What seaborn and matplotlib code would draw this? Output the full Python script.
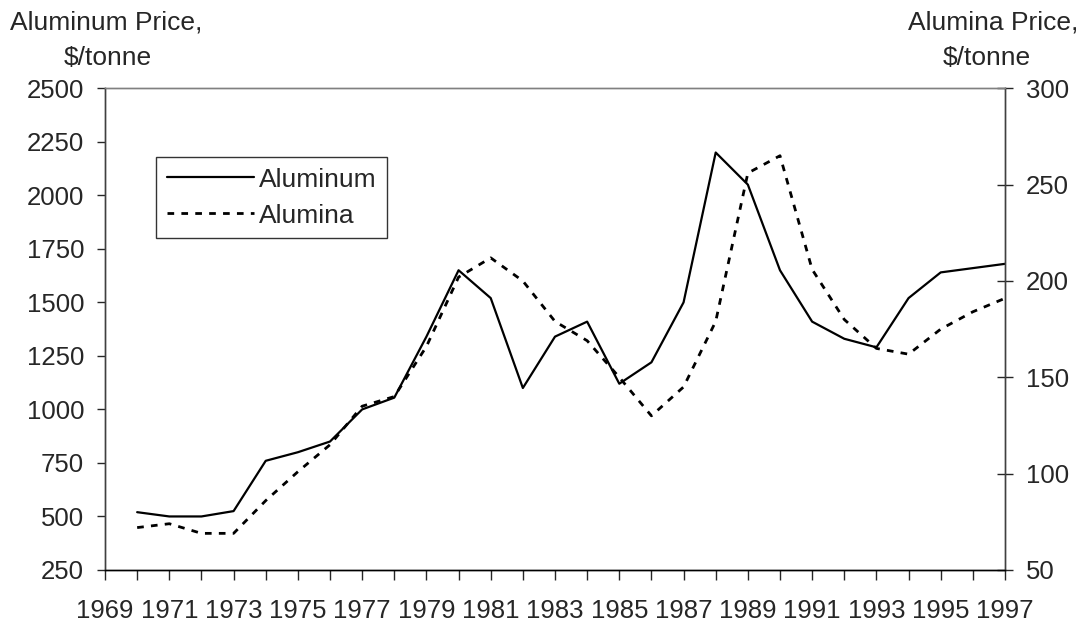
import pandas as pd
import matplotlib
matplotlib.use('Agg')
import matplotlib.pyplot as plt
import seaborn as sns

years = list(range(1970, 1998))
aluminum = [520, 500, 500, 525, 760, 800, 850, 1000, 1055, 1340,
            1650, 1520, 1100, 1340, 1410, 1120, 1220, 1500, 2200, 2050,
            1650, 1410, 1330, 1290, 1520, 1640, 1660, 1680]
alumina = [72, 74, 69, 69, 86, 101, 115, 135, 140, 166,
           202, 212, 200, 179, 169, 150, 130, 145, 179, 256,
           265, 206, 180, 165, 162, 175, 184, 191]
tick_years = list(range(1969, 1998))
left_ticks = [250, 500, 750, 1000, 1250, 1500, 1750, 2000, 2250, 2500]
right_ticks = [50, 100, 150, 200, 250, 300]

df = pd.DataFrame({'Year': years, 'Aluminum': aluminum, 'Alumina': alumina})

sns.set_style('white')
plt.rcParams['font.family'] = ['Liberation Sans', 'DejaVu Sans']
fs = 18.5   # tick labels
hs = 19     # headers and legend

fig = plt.figure(figsize=(10.86, 6.28), dpi=100)
ax = fig.add_axes([0.0967, 0.0924, 0.8287, 0.767])
ax2 = ax.twinx()

sns.lineplot(data=df, x='Year', y='Aluminum', ax=ax, color='black', lw=1.6, label='Aluminum', legend=False)
sns.lineplot(data=df, x='Year', y='Alumina', ax=ax2, color='black', lw=2.0, label='Alumina', legend=False)
ax2.lines[0].set_dashes((2.4, 2.6))

ax.set_xlim(1969, 1997)
ax.set_ylim(250, 2500)
ax2.set_ylim(50, 300)
ax.set_xticks(tick_years)
ax.set_xticklabels([str(y) if (y - 1969) % 2 == 0 else '' for y in tick_years])
ax.set_yticks(left_ticks)
ax2.set_yticks(right_ticks)
ax.set_xlabel('')
ax.set_ylabel('')
ax2.set_ylabel('')

ax.tick_params(axis='x', direction='out', length=7, width=1, pad=14, labelsize=fs, bottom=True)
ax.tick_params(axis='y', direction='out', length=6, width=1, pad=9, labelsize=fs, left=True)
ax2.tick_params(axis='y', direction='inout', length=12, width=1, pad=9, labelsize=fs, right=True)

for a in (ax, ax2):
    a.spines['top'].set_color('#808080')
    a.spines['bottom'].set_color('black')
    a.spines['left'].set_color('#404040')
    a.spines['right'].set_color('#404040')
    for s in a.spines.values():
        s.set_linewidth(1.0)
        s.set_visible(True)

h1, l1 = ax.get_legend_handles_labels()
h2, l2 = ax2.get_legend_handles_labels()
leg = ax2.legend(h1 + h2, l1 + l2, loc='upper left', bbox_to_anchor=(0.057, 0.857),
                 fontsize=hs, frameon=True, fancybox=False, edgecolor='black',
                 handlelength=3.3, handletextpad=0.2, borderpad=0.4, labelspacing=0.45,
                 borderaxespad=0)
leg.get_frame().set_linewidth(1.0)

fig.text(0.009, 0.983, 'Aluminum Price,', fontsize=hs, ha='left', va='top')
fig.text(0.099, 0.927, '$/tonne', fontsize=hs, ha='center', va='top')
fig.text(0.993, 0.983, 'Alumina Price,', fontsize=hs, ha='right', va='top')
fig.text(0.909, 0.927, '$/tonne', fontsize=hs, ha='center', va='top')

fig.savefig('out.png', dpi=100)
